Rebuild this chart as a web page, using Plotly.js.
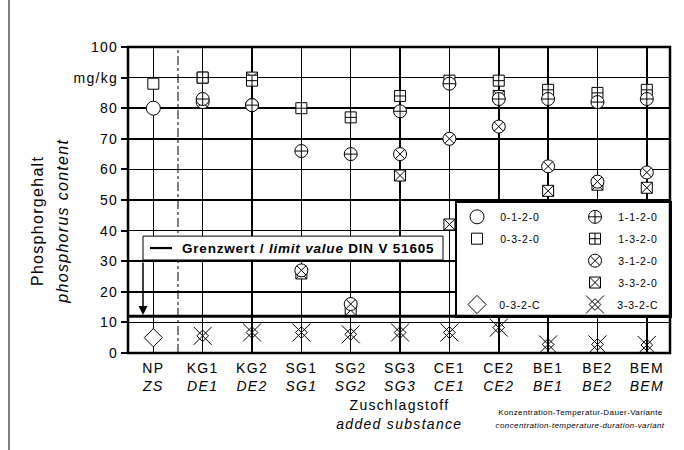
<!DOCTYPE html>
<html><head><meta charset="utf-8">
<script src="https://cdn.plot.ly/plotly-3.0.1.min.js"></script>
<style>
html,body{margin:0;padding:0;background:#fff}
#chart{width:684px;height:450px}
#chart text{letter-spacing:1.3px}
</style>
</head><body><div id="chart"></div>
<script>
// ---- data ----
const categories   = ['NP','KG1','KG2','SG1','SG2','SG3','CE1','CE2','BE1','BE2','BEM'];
const categoriesEn = ['ZS','DE1','DE2','SG1','SG2','SG3','CE1','CE2','BE1','BE2','BEM'];
const s0120 = [80, null, null, null, null, null, null, null, null, null, null];
const s0320 = [88, null, null, null, null, null, null, null, null, null, null];
const s032C = [5,  null, null, null, null, null, null, null, null, null, null];
const s1120 = [null, 83, 81, 66, 65, 79, 88, 83, 83, 82, 83];
const s1320 = [null, 90, 89, 80, 77, 84, 89, 89, 86, 85, 86];
const s3120 = [null, 82, 81, 27, 16, 65, 70, 74, 61, 56, 59];
const s3320 = [null, 90, 90, 26, 14, 58, 42, 84, 53, 55, 54];
const s332C = [null, 5.6, 6.7, 6.7, 6.1, 6.7, 6.7, 8.3, 2.8, 2.8, 2.6];
const limitValue = 12;
const yTickVals = [0,10,20,30,40,50,60,70,80,90,100];
const yTickText = ['0','10','20','30','40','50','60','70','80','mg/kg','100'];
const seriesNames = ['0-1-2-0','0-3-2-0','0-3-2-C','1-1-2-0','1-3-2-0','3-1-2-0','3-3-2-0','3-3-2-C'];

// ---- layout geometry ----
const W=684,H=450,ML=128,MR=14,MT=47,MB=97;
const PW=W-ML-MR, PH=H-MT-MB;
const px = x => (x-ML)/PW;
const py = y => (H-MB-y)/PH;
const FONT='Liberation Sans, Arial, sans-serif';
const BLK='#000';

function mk(symbol,size){return {symbol:symbol,size:size,color:'#fff',line:{color:BLK,width:1}};}
function mkOpen(symbol,size){return {symbol:symbol,size:size,color:BLK,line:{color:BLK,width:1}};}
const styles = {
  '0-1-2-0': [mk('circle',14)],
  '0-3-2-0': [mk('square',11)],
  '0-3-2-C': [mk('diamond',14)],
  '1-1-2-0': [mk('circle-cross',13)],
  '1-3-2-0': [mk('square-cross',11)],
  '3-1-2-0': [mk('circle-x',13)],
  '3-3-2-0': [mk('square-x',11)],
  '3-3-2-C': [mkOpen('x-thin-open',18), mkOpen('diamond-open',9)]
};
const dataBy = {'0-1-2-0':s0120,'0-3-2-0':s0320,'0-3-2-C':s032C,'1-1-2-0':s1120,
  '1-3-2-0':s1320,'3-1-2-0':s3120,'3-3-2-0':s3320,'3-3-2-C':s332C};

const drawOrder = ['3-3-2-C','0-3-2-C','3-3-2-0','1-3-2-0','0-3-2-0','3-1-2-0','1-1-2-0','0-1-2-0'];
const traces = [];
drawOrder.forEach(n=>{
  styles[n].forEach(m=>{
    traces.push({type:'scatter',mode:'markers',name:n,x:categories,y:dataBy[n],
      marker:m,xaxis:'x',yaxis:'y',hoverinfo:'skip',cliponaxis:false});
  });
});

// legend inset (custom two-column key)
const legPos = {
  '0-1-2-0':[0.094,0.878],'0-3-2-0':[0.094,0.685],'0-3-2-C':[0.094,0.104],
  '1-1-2-0':[0.648,0.878],'1-3-2-0':[0.648,0.685],'3-1-2-0':[0.648,0.491],
  '3-3-2-0':[0.648,0.298],'3-3-2-C':[0.648,0.104]
};
const annotations = [];
seriesNames.forEach(n=>{
  const p = legPos[n];
  styles[n].forEach(m=>{
    traces.push({type:'scatter',mode:'markers',x:[p[0]],y:[p[1]],marker:m,
      xaxis:'x2',yaxis:'y2',hoverinfo:'skip',cliponaxis:false});
  });
  annotations.push({xref:'x2',yref:'y2',x:p[0]+0.2,y:p[1],xanchor:'center',yanchor:'middle',
    text:n,showarrow:false,font:{family:FONT,size:10.5,color:BLK}});
});

annotations.push(
  {xref:'paper',yref:'paper',x:px(37),y:py(221),xanchor:'center',yanchor:'middle',textangle:-90,
   text:'Phosphorgehalt',showarrow:false,font:{family:FONT,size:16,color:BLK}},
  {xref:'paper',yref:'paper',x:px(62),y:py(221),xanchor:'center',yanchor:'middle',textangle:-90,
   text:'<i>phosphorus content</i>',showarrow:false,font:{family:FONT,size:16,color:BLK}},
  {xref:'paper',yref:'paper',x:0.5,y:py(405),xanchor:'center',yanchor:'middle',text:'Zuschlagstoff',
   showarrow:false,font:{family:FONT,size:14,color:BLK}},
  {xref:'paper',yref:'paper',x:0.5,y:py(424),xanchor:'center',yanchor:'middle',text:'<i>added substance</i>',
   showarrow:false,font:{family:FONT,size:14,color:BLK}},
  {xref:'paper',yref:'paper',x:px(580),y:py(412),xanchor:'center',yanchor:'middle',
   text:'Konzentration-Temperatur-Dauer-Variante',showarrow:false,font:{family:FONT,size:8,color:BLK}},
  {xref:'paper',yref:'paper',x:px(580),y:py(425),xanchor:'center',yanchor:'middle',
   text:'<i>concentration-temperature-duration-variant</i>',showarrow:false,font:{family:FONT,size:8,color:BLK}},
  {xref:'paper',yref:'y',x:px(308),y:34.3,xanchor:'center',yanchor:'middle',
   text:'<b>Grenzwert / <i>limit value</i> DIN V 51605</b>',showarrow:false,
   font:{family:FONT,size:13.5,color:BLK}},
  {xref:'paper',yref:'y',x:px(143),y:limitValue+0.4,text:'',showarrow:true,axref:'pixel',ayref:'pixel',
   ax:0,ay:-54,arrowhead:2,arrowsize:1.2,arrowwidth:1.5,arrowcolor:BLK,standoff:0}
);

const shapes = [
  {type:'line',xref:'paper',yref:'paper',x0:px(9),x1:px(9),y0:py(0),y1:py(450),line:{color:BLK,width:1},layer:'above'},
  {type:'line',xref:'x',yref:'paper',x0:0.5,x1:0.5,y0:0,y1:1,line:{color:BLK,width:1,dash:'dashdot'},layer:'above'},
  {type:'line',xref:'paper',yref:'y',x0:0,x1:1,y0:limitValue,y1:limitValue,line:{color:BLK,width:3},layer:'above'},
  {type:'rect',xref:'paper',yref:'y',x0:px(143),x1:px(443),y0:30.4,y1:38.2,fillcolor:'#fff',line:{color:BLK,width:1},layer:'above'},
  {type:'line',xref:'paper',yref:'y',x0:px(150),x1:px(172),y0:34.3,y1:34.3,line:{color:BLK,width:2.2},layer:'above'},
  {type:'rect',xref:'paper',yref:'paper',x0:0,x1:1,y0:0,y1:1,line:{color:BLK,width:2.5},layer:'above'}
];

const layout = {
  width:W,height:H,margin:{l:ML,r:MR,t:MT,b:MB},
  paper_bgcolor:'#fff',plot_bgcolor:'#fff',showlegend:false,
  font:{family:FONT,color:BLK},
  xaxis:{type:'category',range:[-0.513,10.47],tickvals:categories,
    ticktext:categories.map((c,i)=>c+'<br><i>'+categoriesEn[i]+'</i>'),
    showgrid:true,gridcolor:BLK,gridwidth:1.5,zeroline:false,showline:false,ticks:'',ticklabelstandoff:5,
    tickfont:{family:FONT,size:14,color:BLK},fixedrange:true},
  yaxis:{range:[0,100],tickvals:yTickVals,ticktext:yTickText,showgrid:true,gridcolor:BLK,gridwidth:1.5,
    zeroline:false,showline:false,ticks:'outside',ticklen:6,tickwidth:2,tickcolor:BLK,
    tickfont:{family:FONT,size:14,color:BLK},fixedrange:true},
  xaxis2:{domain:[px(457),1],anchor:'y2',range:[0,1],showgrid:false,zeroline:false,showticklabels:false,
    ticks:'',showline:true,mirror:true,linecolor:BLK,linewidth:2,fixedrange:true},
  yaxis2:{domain:[0.12,py(203)],anchor:'x2',range:[0,1],showgrid:false,zeroline:false,showticklabels:false,
    ticks:'',showline:true,mirror:true,linecolor:BLK,linewidth:2,fixedrange:true},
  shapes:shapes,annotations:annotations
};
Plotly.newPlot('chart',traces,layout,{displayModeBar:false,staticPlot:true}).then(()=>{
  document.querySelectorAll('#chart .annotation-text').forEach(t=>{
    const s=t.textContent;
    if(/Konzentration|concentration/.test(s)) t.style.letterSpacing='0.4px';
    else if(/Grenzwert/.test(s)) t.style.letterSpacing='0.8px';
    else if(/^\d-\d-\d-/.test(s)) t.style.letterSpacing='0.8px';
  });
});
</script></body></html>
